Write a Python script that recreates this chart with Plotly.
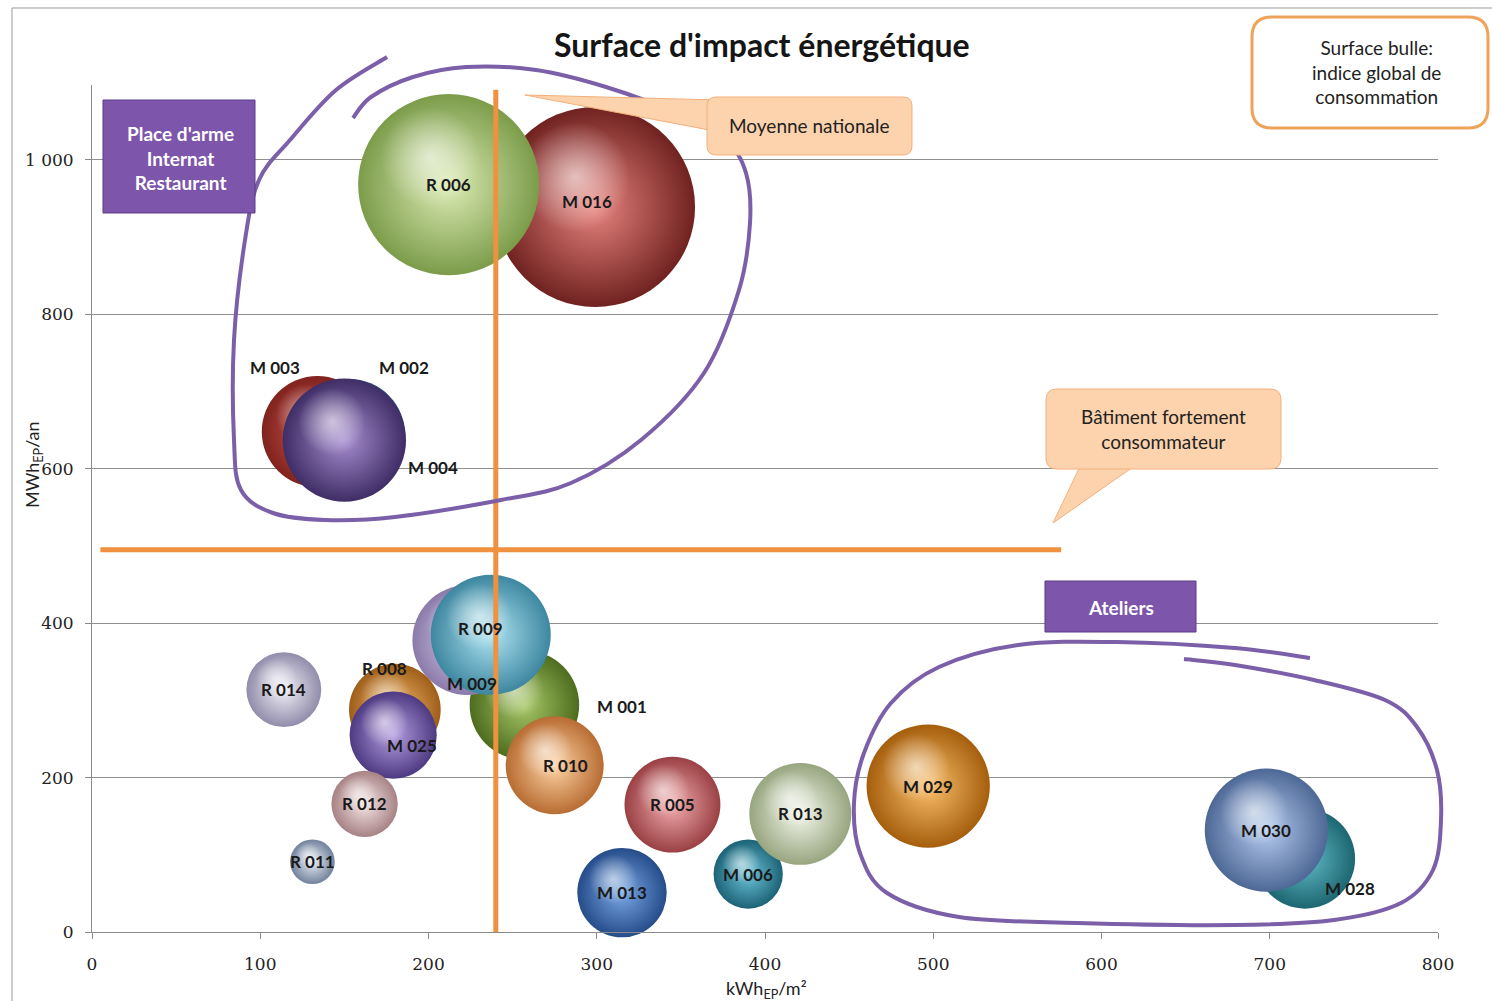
import plotly.graph_objects as go

# ---------------- data ----------------
codes = ["M 016", "R 006", "M 003", "M 002", "M 004", "M 001", "M 009", "R 009",
         "R 010", "R 014", "R 008", "M 025", "R 012", "R 011", "M 013", "M 006",
         "R 005", "R 013", "M 029", "M 028", "M 030"]
kwh_ep_m2 = [299, 212, 134, 153, 150, 257, 223, 237, 275, 114, 180, 179, 162, 131,
             315, 390, 345, 421, 497, 721, 698]
mwh_ep_an = [939, 968, 648, 644, 637, 294, 378, 385, 216, 314, 288, 255, 166, 91,
             51, 75, 165, 153, 189, 95, 132]
indice_global = [100, 82, 31, 31, 38, 30, 30, 36, 24, 14, 21, 19, 11, 5, 20, 12,
                 23, 26, 38, 25, 38]

moyenne_nationale_kwh = 240
seuil_fort_mwh = 495
x_ticks = [0, 100, 200, 300, 400, 500, 600, 700, 800]
y_ticks = [0, 200, 400, 600, 800, 1000]

# ---------------- styles ----------------
W, H = 1492, 1001
ML, MR, MT, MB = 92, 54, 85, 69
XR, YR = [0, 800], [0, 1097]
pw, ph = W - ML - MR, H - MT - MB
ppx = pw / (XR[1] - XR[0])
ppy = ph / (YR[1] - YR[0])

colors = {  # (centre, bord)
    "M 016": ("#e8847f", "#702220"), "R 006": ("#dcecb5", "#7c9c4a"),
    "M 003": ("#d05a55", "#80221d"), "M 002": ("#6a88c4", "#2a3f70"),
    "M 004": ("#a88ed0", "#3f2d66"), "M 001": ("#a8c868", "#4d6c1e"),
    "M 009": ("#ddd3ee", "#8a7aaa"), "R 009": ("#aee4f2", "#3e87a0"),
    "R 010": ("#fdd4a6", "#b86c32"), "R 014": ("#f2f0f8", "#918caa"),
    "R 008": ("#f5ba6e", "#9e5e18"), "M 025": ("#b49ee0", "#4e3a82"),
    "R 012": ("#f8e6e6", "#a68284"), "R 011": ("#e8eef6", "#72829c"),
    "M 013": ("#7aa9e6", "#264c8a"), "M 006": ("#6cc4d9", "#1c6276"),
    "R 005": ("#f3aeb0", "#9a4044"), "R 013": ("#f4f7ec", "#97a57f"),
    "M 029": ("#fbc06c", "#a55e0c"), "M 028": ("#62bdca", "#1c6670"),
    "M 030": ("#b6ccef", "#4e6896"),
}
label_shift = {
    "M 016": (-8, 5), "M 003": (-42, 64), "M 002": (55, 67), "M 004": (89, -27),
    "R 009": (-10, 6), "M 009": (5, -43), "M 001": (98, -1), "R 008": (-10, 41),
    "M 025": (19, -10), "R 010": (11, 0), "M 028": (45, -30),
}

SIZEREF = 2 * max(indice_global) / (200 ** 2)
PURPLE = "#7b5fa8"
ORANGE = "#f0913f"
FONT = "Lato"


def P(px, py):
    return (px - ML) / pw, (H - MB - py) / ph


def pt(px, py):
    x, y = P(px, py)
    return f"{x:.5f},{y:.5f}"


def smooth_path(points):
    pts = [points[0]] + points + [points[-1]]
    d = "M " + pt(*points[0])
    for i in range(1, len(pts) - 2):
        p0, p1, p2, p3 = pts[i - 1], pts[i], pts[i + 1], pts[i + 2]
        c1 = (p1[0] + (p2[0] - p0[0]) / 6, p1[1] + (p2[1] - p0[1]) / 6)
        c2 = (p2[0] - (p3[0] - p1[0]) / 6, p2[1] - (p3[1] - p1[1]) / 6)
        d += " C " + pt(*c1) + " " + pt(*c2) + " " + pt(*p2)
    return d


def rrect(x0, y0, x1, y1, r):
    return ("M " + pt(x0 + r, y0) + " L " + pt(x1 - r, y0) + " Q " + pt(x1, y0) + " " + pt(x1, y0 + r)
            + " L " + pt(x1, y1 - r) + " Q " + pt(x1, y1) + " " + pt(x1 - r, y1)
            + " L " + pt(x0 + r, y1) + " Q " + pt(x0, y1) + " " + pt(x0, y1 - r)
            + " L " + pt(x0, y0 + r) + " Q " + pt(x0, y0) + " " + pt(x0 + r, y0) + " Z")


def poly(points):
    return "M " + " L ".join(pt(*p) for p in points) + " Z"


fig = go.Figure()

# ---------------- bubbles ----------------
for c, x, y, s in zip(codes, kwh_ep_m2, mwh_ep_an, indice_global):
    centre, bord = colors[c]
    fig.add_trace(go.Scatter(
        x=[x], y=[y], mode="markers", cliponaxis=False, hoverinfo="text", text=[c],
        marker=dict(size=[s], sizemode="area", sizeref=SIZEREF, color=bord, opacity=1,
                    line=dict(width=0), gradient=dict(type="radial", color=centre)),
        showlegend=False))
    r = (2 * s / SIZEREF) ** 0.5 / 2
    fig.add_trace(go.Scatter(
        x=[x - 0.2 * r / ppx], y=[y + 0.3 * r / ppy], mode="markers", cliponaxis=False,
        hoverinfo="skip",
        marker=dict(size=1.1 * r, color="rgba(255,255,255,0)", opacity=1, line=dict(width=0),
                    gradient=dict(type="radial", color="rgba(255,255,255,0.6)")),
        showlegend=False))

# reference lines
fig.add_trace(go.Scatter(x=[moyenne_nationale_kwh, moyenne_nationale_kwh], y=[0, 1091],
                         mode="lines", line=dict(color=ORANGE, width=5), hoverinfo="skip",
                         showlegend=False))
fig.add_trace(go.Scatter(x=[5, 576], y=[seuil_fort_mwh, seuil_fort_mwh],
                         mode="lines", line=dict(color=ORANGE, width=5), hoverinfo="skip",
                         showlegend=False))

# ---------------- labels ----------------
ann = []
for c, x, y in zip(codes, kwh_ep_m2, mwh_ep_an):
    dx, dy = label_shift.get(c, (0, 0))
    ann.append(dict(x=x, y=y, xref="x", yref="y", text="<b>" + c + "</b>", showarrow=False,
                    xshift=dx, yshift=dy, font=dict(family=FONT, size=17, color="#1a1a1a")))


def pann(px, py, text, size=19, color="#222", **kw):
    x, y = P(px, py)
    ann.append(dict(x=x, y=y, xref="paper", yref="paper", text=text, showarrow=False,
                    xanchor="center", yanchor="middle",
                    font=dict(family=FONT, size=size, color=color), **kw))


pann(762, 45, "<b>Surface d'impact énergétique</b>", size=32, color="#151515")
pann(809, 126, "Moyenne nationale")
pann(1163, 429, "Bâtiment fortement<br>consommateur")
pann(1376, 72, "Surface bulle:<br>indice global de<br>consommation")
pann(180, 158, "<b>Place d'arme<br>Internat<br>Restaurant</b>", color="white")
pann(1121, 607, "<b>Ateliers</b>", color="white")
pann(766, 989, "kWh<sub>EP</sub>/m²", size=18, color="#222")
pann(33, 465, "MWh<sub>EP</sub>/an", size=18, color="#222", textangle=-90)

# ---------------- decorations ----------------
shapes = []
shapes.append(dict(type="path", xref="paper", yref="paper",
                   path=poly([(12, 8), (1520, 8), (1520, 1030), (12, 1030)]),
                   line=dict(color="#9a9a9a", width=1), fillcolor="rgba(0,0,0,0)", layer="below"))

top_loop = [(387, 57), (336, 90), (290, 140), (259, 180), (245, 240), (234, 340), (234, 440),
            (241, 490), (273, 513), (325, 520), (395, 517), (501, 500), (571, 483), (641, 440),
            (704, 373), (739, 290), (750, 223), (746, 173), (725, 140), (676, 113), (606, 87),
            (536, 70), (466, 67), (413, 77), (371, 97), (353, 118)]
atelier_loop = [(1310, 658), (1235, 648), (1117, 642), (1018, 645), (939, 667), (891, 703),
                (864, 753), (854, 803), (860, 853), (887, 893), (959, 917), (1077, 923),
                (1235, 925), (1334, 920), (1401, 903), (1433, 870), (1441, 820), (1437, 770),
                (1417, 727), (1385, 700), (1314, 680), (1235, 665), (1184, 659)]
for loop in (top_loop, atelier_loop):
    shapes.append(dict(type="path", xref="paper", yref="paper", path=smooth_path(loop),
                       line=dict(color=PURPLE, width=4), fillcolor="rgba(0,0,0,0)", layer="above"))

PEACH, PEACH_LINE = "#fcd3ad", "#f2b07c"
shapes.append(dict(type="path", xref="paper", yref="paper",
                   path=poly([(525, 95), (720, 100), (720, 132)]),
                   line=dict(color=PEACH_LINE, width=1), fillcolor=PEACH, layer="above"))
shapes.append(dict(type="path", xref="paper", yref="paper", path=rrect(707, 97, 912, 155, 9),
                   line=dict(color=PEACH_LINE, width=1), fillcolor=PEACH, layer="above"))
shapes.append(dict(type="path", xref="paper", yref="paper",
                   path=poly([(1053, 523), (1083, 460), (1143, 460)]),
                   line=dict(color=PEACH_LINE, width=1), fillcolor=PEACH, layer="above"))
shapes.append(dict(type="path", xref="paper", yref="paper", path=rrect(1046, 389, 1281, 469, 11),
                   line=dict(color=PEACH_LINE, width=1), fillcolor=PEACH, layer="above"))
shapes.append(dict(type="path", xref="paper", yref="paper", path=rrect(1252, 17, 1488, 128, 20),
                   line=dict(color="#eea35b", width=3), fillcolor="white", layer="above"))
shapes.append(dict(type="path", xref="paper", yref="paper", path=poly([(103, 100), (255, 100), (255, 213), (103, 213)]),
                   line=dict(color="#5b3d86", width=1), fillcolor="#7d55aa", layer="above"))
shapes.append(dict(type="path", xref="paper", yref="paper", path=poly([(1045, 581), (1196, 581), (1196, 632), (1045, 632)]),
                   line=dict(color="#5b3d86", width=1), fillcolor="#7d55aa", layer="above"))

fig.update_layout(
    width=W, height=H, margin=dict(l=ML, r=MR, t=MT, b=MB),
    paper_bgcolor="white", plot_bgcolor="white", showlegend=False,
    separators=", ", annotations=ann, shapes=shapes,
    xaxis=dict(range=XR, tickvals=x_ticks, ticks="outside", ticklen=6, tickcolor="#8a8a8a",
               showline=True, linecolor="#8a8a8a", linewidth=1, showgrid=False, zeroline=False,
               tickfont=dict(family="DejaVu Serif", size=17, color="#222"), ticklabelstandoff=11),
    yaxis=dict(range=YR, tickvals=y_ticks, ticks="outside", ticklen=6, tickcolor="#8a8a8a",
               showline=True, linecolor="#8a8a8a", linewidth=1, showgrid=True,
               gridcolor="#8f8f8f", gridwidth=1, zeroline=False, separatethousands=True,
               tickformat=",d",
               tickfont=dict(family="DejaVu Serif", size=17, color="#222"), ticklabelstandoff=8),
)

fig.write_html("out.html", config={"displayModeBar": False},
               post_script="document.body.style.margin='0';")
